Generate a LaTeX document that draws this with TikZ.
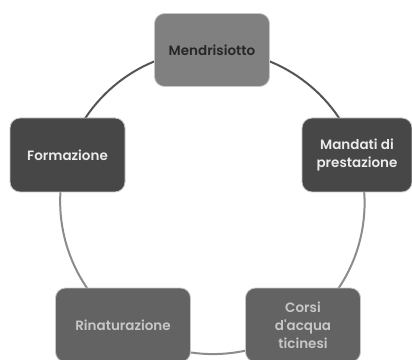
\documentclass[tikz,border=0pt]{standalone}
\usepackage{fontspec}
\setmainfont{Poppins}
\newfontfamily\stagefont{Poppins SemiBold}
\usetikzlibrary{positioning, backgrounds}
\definecolor{topGray}{gray}{0.50}
\definecolor{sideGray}{gray}{0.28}
\definecolor{lowGray}{gray}{0.39}
\definecolor{ringDark}{gray}{0.33}
\definecolor{ringLight}{gray}{0.55}
\definecolor{lineGray}{gray}{0.78}

\begin{document}
\begin{tikzpicture}[x=1pt, y=1pt,
    stage/.style={draw=lineGray, line width=0.8pt, rounded corners=10pt, inner sep=0pt,
        minimum width=115pt, minimum height=74pt, align=center,
        font=\stagefont\fontsize{13.5}{18}\selectfont},
    ring/.style={ringDark, line width=2pt, looseness=0.94},
    ringlow/.style={ringLight, line width=2pt, looseness=0.94}]
    \useasboundingbox (0,0) rectangle (412,359);

    % five stages round one circle
    \node[stage, fill=topGray, text=black!85, minimum height=73pt] (mendr) at (212,309) {Mendrisiotto};
    \node[stage, fill=sideGray, text=white!92!black] (form) at (67.5,204) {Formazione};
    \node[stage, fill=sideGray, text=white!92!black, minimum width=110pt] (mand) at (357,204) {Mandati di\\prestazione};
    \node[stage, fill=lowGray, text=lineGray, minimum width=135pt] (rinat) at (123,34) {Rinaturazione};
    \node[stage, fill=lowGray, text=lineGray] (corsi) at (303,34) {Corsi\\d'acqua\\ticinesi};

    \begin{scope}[on background layer]
        \draw[ring] (mendr.center) to[out=0, in=108] (mand.center);
        \draw[ringlow] (mand.center) to[out=-72, in=36] (corsi.center);
        \draw[ringlow] (corsi.center) to[out=-144, in=-36] (rinat.center);
        \draw[ringlow] (rinat.center) to[out=144, in=-108] (form.center);
        \draw[ring] (form.center) to[out=72, in=180] (mendr.center);
    \end{scope}
\end{tikzpicture}
\end{document}
